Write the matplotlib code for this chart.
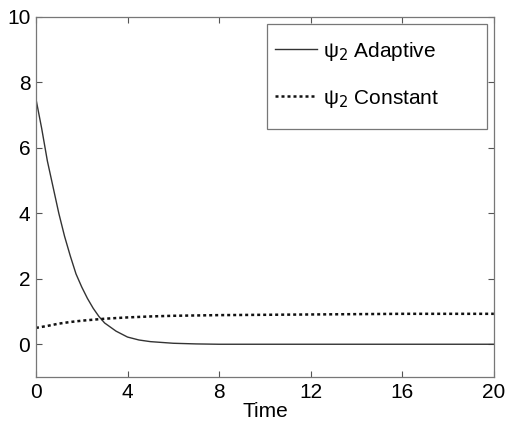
import matplotlib.pyplot as plt
from matplotlib.patches import Rectangle

plt.rcParams["font.family"] = ["Liberation Sans", "DejaVu Sans"]

# readings
t_adaptive = [0, 0.25, 0.5, 0.75, 1.0, 1.25, 1.5, 1.75, 2.0, 2.25, 2.5, 2.75,
              3.0, 3.5, 4.0, 4.5, 5.0, 6.0, 7.0, 8.0, 12.0, 16.0, 20.0]
psi_adaptive = [7.5, 6.6, 5.6, 4.8, 4.0, 3.3, 2.7, 2.15, 1.75, 1.4, 1.1, 0.85,
                0.65, 0.4, 0.22, 0.13, 0.08, 0.03, 0.01, 0.0, 0.0, 0.0, 0.0]

t_constant = [0, 0.5, 1.0, 1.5, 2.0, 2.5, 3.0, 4.0, 5.0, 6.0, 8.0, 10.0,
              12.0, 14.0, 16.0, 18.0, 20.0]
psi_constant = [0.5, 0.56, 0.63, 0.68, 0.72, 0.75, 0.78, 0.82, 0.85, 0.87, 0.89,
                0.9, 0.91, 0.92, 0.93, 0.93, 0.93]

x_ticks = [0, 4, 8, 12, 16, 20]
y_ticks = [0, 2, 4, 6, 8, 10]

fig = plt.figure(figsize=(5.06, 4.25), dpi=100, facecolor="white")
ax = fig.add_axes([0.071, 0.113, 0.905, 0.847])

ax.plot(t_adaptive, psi_adaptive, color="#333333", linewidth=1.0, linestyle="-",
        label="ψ$_2$ Adaptive")
ax.plot(t_constant, psi_constant, color="#111111", linewidth=1.8, linestyle=(0, (1.2, 1.2)),
        label="ψ$_2$ Constant")

ax.set_xlim(0, 20)
ax.set_ylim(-1, 10)
ax.set_xticks(x_ticks)
ax.set_yticks(y_ticks)
ax.tick_params(direction="in", length=4, width=0.8, top=True, right=True,
               labelsize=15, colors="#555555", labelcolor="black", pad=4)
for spine in ax.spines.values():
    spine.set_color("#777777")
    spine.set_linewidth(0.9)

ax.set_xlabel("Time", fontsize=15, labelpad=0)

# MATLAB-style legend box: wider than its contents, so frame drawn separately
ax.add_patch(Rectangle((0.504, 0.689), 0.481, 0.292, transform=ax.transAxes,
                       facecolor="white", edgecolor="#777777", linewidth=0.9, zorder=4))
leg = ax.legend(loc="upper left", bbox_to_anchor=(0.522, 0.937), fontsize=15,
                frameon=False, handlelength=2.0, handletextpad=0.3,
                labelspacing=1.2, borderpad=0, borderaxespad=0)
leg.set_zorder(5)

fig.savefig("out.png", dpi=100, facecolor="white")
